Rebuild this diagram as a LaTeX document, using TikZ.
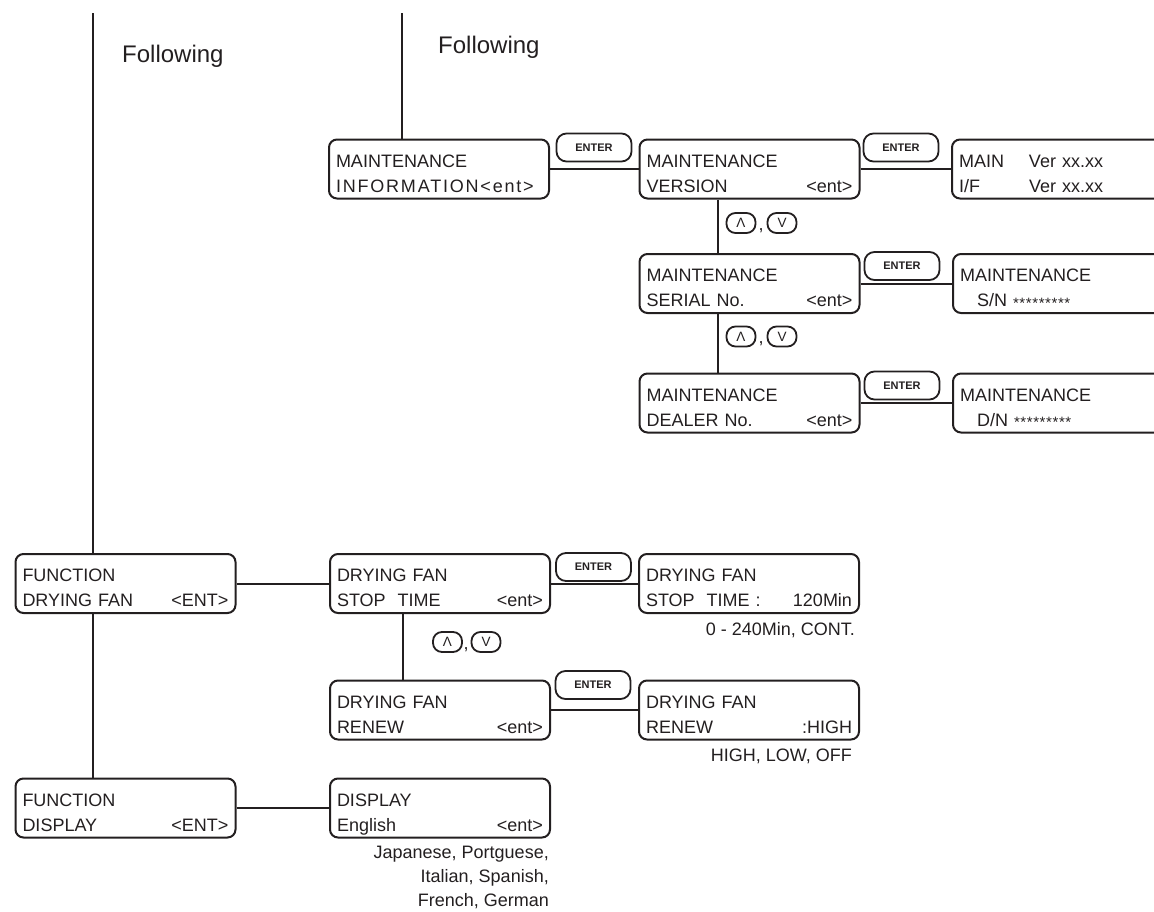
\documentclass[tikz,border=0pt]{standalone}
\usepackage{fontspec}
\setmainfont{Liberation Sans}
\usepackage{tikz}
\usetikzlibrary{positioning}

\definecolor{ink}{HTML}{231F20}
\newcommand{\push}{\hskip 0pt plus 1fill\relax}
\newcommand{\stars}{\raisebox{-1.5pt}{\fontsize{15}{15}\selectfont\addfontfeature{LetterSpace=4}*********}}

\begin{document}
\begin{tikzpicture}[x=1pt, y=-1pt, every node/.style={text=ink},
    lcd/.style={draw=ink, line width=2pt, rounded corners=8pt, text width=206pt, inner xsep=7pt, inner ysep=0pt,
      minimum height=59pt, align=left, font=\fontsize{18}{25}\selectfont,
      execute at begin node={\rule{0pt}{26pt}}, execute at end node={\rule[-5pt]{0pt}{5pt}}},
    enter/.style={draw=ink, line width=1.8pt, rounded corners=10pt, minimum width=75pt, minimum height=28pt,
      inner sep=0pt, font=\fontsize{11}{11}\selectfont\bfseries},
    key/.style={draw=ink, line width=1.8pt, rounded corners=9pt, minimum width=29pt, minimum height=20pt,
      inner sep=0pt, font=\fontsize{13.5}{13.5}\selectfont},
    comma/.style={anchor=base, inner sep=0pt, font=\fontsize{18}{18}\selectfont},
    hint/.style={inner sep=0pt, align=right, font=\fontsize{18}{24}\selectfont},
    follow/.style={anchor=west, inner sep=0pt, font=\fontsize{24}{24}\selectfont},
    link/.style={draw=ink, line width=2pt}]

\useasboundingbox (0,0) rectangle (1154,911);
\clip (0,0) rectangle (1154,911);

% Following labels and lines from above
\coordinate (top1) at (93,13);
\coordinate (top2) at (402,13);
\node[follow] (fol1) at (122,56) {Following};
\node[follow] (fol2) at (438,47) {Following};

% Maintenance
\node[lcd] (info) at (439,169) {MAINTENANCE\\{\addfontfeature{LetterSpace=10}INFORMATION<ent>}};
\node[lcd] (ver) at (749.5,169) {MAINTENANCE\\VERSION\push<ent>};
\node[lcd] (ser) at (749.5,283.5) {MAINTENANCE\\SERIAL No.\push<ent>};
\node[lcd] (dlr) at (749.5,403) {MAINTENANCE\\DEALER No.\push<ent>};
\node[lcd] (verout) at (1062,169) {\makebox[70pt][l]{MAIN}Ver xx.xx\\\makebox[70pt][l]{I/F}Ver xx.xx};
\node[lcd] (serout) at (1063,283.5) {MAINTENANCE\\\hspace*{17pt}S/N \stars};
\node[lcd] (dlrout) at (1063,403) {MAINTENANCE\\\hspace*{17pt}D/N \stars};

\node[enter] (ent1) at (594,147.5) {ENTER};
\node[enter] (ent2) at (901,147.5) {ENTER};
\node[enter] (ent3) at (902,266) {ENTER};
\node[enter] (ent4) at (902,385.5) {ENTER};

\node[key] (up1) at (741,223) {Λ};
\node[comma] (cm1) at (761,230) {,};
\node[key] (dn1) at (782,223) {V};
\node[key] (up2) at (741,336.5) {Λ};
\node[comma] (cm2) at (761,343.5) {,};
\node[key] (dn2) at (782,336.5) {V};

% Function: drying fan and display
\node[lcd] (fdry) at (125.5,583.5) {FUNCTION\\DRYING FAN\push<ENT>};
\node[lcd] (fdisp) at (125.5,808) {FUNCTION\\DISPLAY\push<ENT>};
\node[lcd] (stop) at (440,583.5) {DRYING FAN\\STOP~~TIME\push<ent>};
\node[lcd] (renew) at (440,710) {DRYING FAN\\RENEW\push<ent>};
\node[lcd] (disp) at (440,808) {DISPLAY\\English\push<ent>};
\node[lcd] (stopout) at (749,583.5) {DRYING FAN\\STOP~~TIME :\push 120Min};
\node[lcd] (renewout) at (749,710) {DRYING FAN\\RENEW\push:HIGH};

\node[enter] (ent5) at (593.5,567) {ENTER};
\node[enter] (ent6) at (593,685) {ENTER};

\node[key] (up3) at (447.5,642) {Λ};
\node[comma] (cm3) at (466,649) {,};
\node[key] (dn3) at (486,642) {V};

\node[hint, below left=8pt and 5pt of stopout.south east] (stophint) {0 - 240Min, CONT.};
\node[hint, below left=8.5pt and 8pt of renewout.south east] (renewhint) {HIGH, LOW, OFF};
\node[hint, below left=7.5pt and 2pt of disp.south east] (disphint) {Japanese, Portguese,\\Italian, Spanish,\\French, German};

% Connections
\coordinate (mx) at (718,0);
\coordinate (dx) at (403,0);

\draw[link] (top1) -- (top1 |- fdry.north);
\draw[link] (fdry.south -| top1) -- (fdisp.north -| top1);
\draw[link] (top2) -- (top2 |- info.north);
\draw[link] (ver.south -| mx) -- (ser.north -| mx);
\draw[link] (ser.south -| mx) -- (dlr.north -| mx);
\draw[link] (stop.south -| dx) -- (renew.north -| dx);

\draw[link] (info) -- (ver);
\draw[link] (ver) -- (verout);
\draw[link] (ser) -- (serout);
\draw[link] (dlr) -- (dlrout);
\draw[link] (fdry) -- (stop);
\draw[link] (stop) -- (stopout);
\draw[link] (renew) -- (renewout);
\draw[link] (fdisp) -- (disp);

\end{tikzpicture}
\end{document}
